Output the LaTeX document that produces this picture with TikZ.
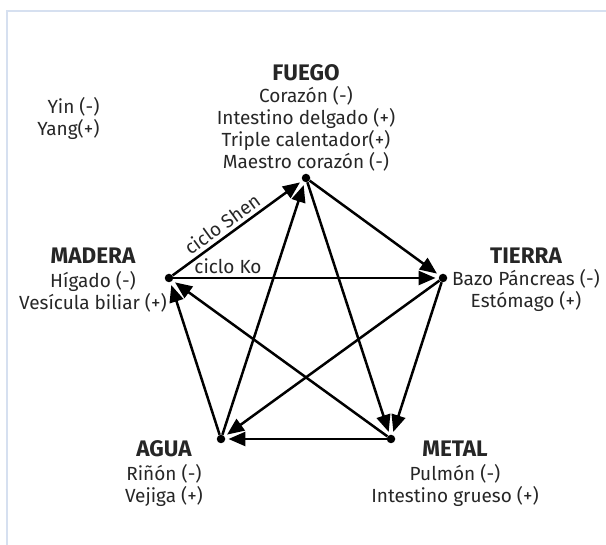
\documentclass[tikz,border=0pt]{standalone}
\usepackage{fontspec}
\setmainfont{Fira Sans}
\usepackage{tikz}
\usetikzlibrary{arrows.meta}
\definecolor{framebl}{HTML}{D6E0F0}
\newcommand{\elemento}[1]{{\fontsize{22.5}{22}\selectfont\bfseries #1}}

\begin{document}
\begin{tikzpicture}[x=1pt, y=-1pt,
    punto/.style={circle, fill=black, inner sep=0pt, minimum size=8.5pt},
    flecha/.style={line width=2.5pt, -{Triangle[length=17pt, width=14pt]}, shorten >=3pt},
    etiqueta/.style={align=center, font=\fontsize{19}{22}\selectfont, text=black!85},
    ciclo/.style={font=\fontsize{19}{20}\selectfont, text=black!85}]
  \useasboundingbox (0,0) rectangle (606,545);
  \begin{scope}
    \clip (0,0) rectangle (606,545);
    \draw[framebl, line width=1.5pt] (7,11) rectangle (640,580);
  \end{scope}
  % the five elements
  \node[punto] (fuego)  at (306,178) {};
  \node[punto] (tierra) at (443,278) {};
  \node[punto] (metal)  at (391,439) {};
  \node[punto] (agua)   at (221,439) {};
  \node[punto] (madera) at (169,278) {};
  % ciclo Shen
  \draw[flecha] (madera) -- (fuego);
  \draw[flecha] (fuego) -- (tierra);
  \draw[flecha] (tierra) -- (metal);
  \draw[flecha] (metal) -- (agua);
  \draw[flecha] (agua) -- (madera);
  % ciclo Ko
  \draw[flecha] (madera) -- (tierra);
  \draw[flecha] (tierra) -- (agua);
  \draw[flecha] (agua) -- (fuego);
  \draw[flecha] (fuego) -- (metal);
  \draw[flecha] (metal) -- (madera);
  \node[ciclo, rotate=36] (shen) at (222,224) {ciclo Shen};
  \node[ciclo] (ko) at (228,266) {ciclo Ko};
  % labels
  \node[etiqueta, anchor=east] (yin) at (103,107) {Yin (-)};
  \node[etiqueta, anchor=east] (yang) at (103,129) {Yang(+)};
  \node[etiqueta] (tfuego) at (306,118) {\elemento{FUEGO}\\Corazón (-)\\Intestino delgado (+)\\Triple calentador(+)\\Maestro corazón (-)};
  \node[etiqueta] (tmadera) at (93,280) {\elemento{MADERA}\\[2pt]Hígado (-)\\Vesícula biliar (+)};
  \node[etiqueta] (ttierra) at (526,280) {\elemento{TIERRA}\\Bazo Páncreas (-)\\Estómago (+)};
  \node[etiqueta] (tagua) at (164,474) {\elemento{AGUA}\\[2pt]Riñón (-)\\Vejiga (+)};
  \node[etiqueta] (tmetal) at (455,474) {\elemento{METAL}\\[2pt]Pulmón (-)\\Intestino grueso (+)};
\end{tikzpicture}
\end{document}
